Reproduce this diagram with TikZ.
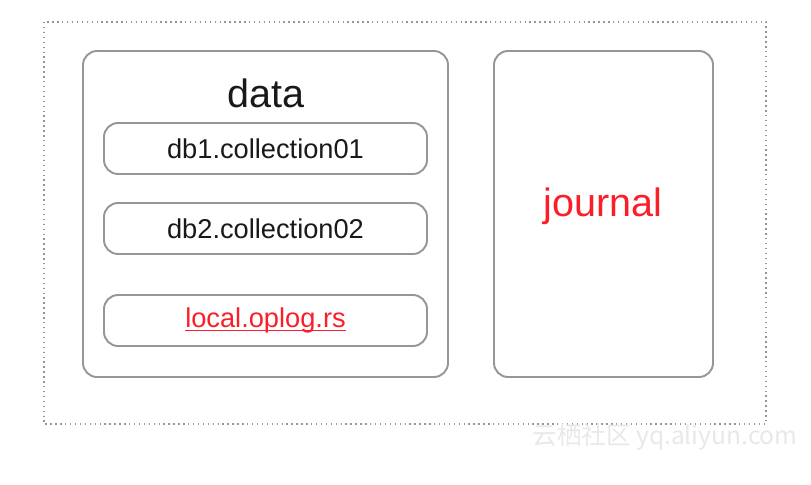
\documentclass[tikz,border=0pt]{standalone}
\usepackage{fontspec}
\setmainfont{Liberation Sans}
\newfontfamily\cjk{Noto Sans CJK SC}
\usetikzlibrary{positioning}

\definecolor{boxgray}{RGB}{150,150,152}
\definecolor{logred}{RGB}{250,30,40}
\definecolor{inkgray}{RGB}{25,25,25}

\begin{document}
\begin{tikzpicture}[
  x=0.02cm, y=-0.02cm,
  outer/.style={draw=boxgray, dotted, line width=0.8pt},
  store/.style={draw=boxgray, line width=1.1pt, rounded corners=8pt, inner sep=0pt},
  coll/.style={draw=boxgray, line width=1.1pt, rounded corners=8pt, inner sep=0pt,
    minimum width=323*0.02cm, minimum height=51*0.02cm},
  label/.style={text=inkgray, font=\fontsize{15.5}{18}\selectfont, inner sep=0pt},
  every node/.style={align=center}]

  \useasboundingbox (0,0) rectangle (811,484);

  % outer frame
  \draw[outer] (44,22) rectangle (766,424);

  % the two stores
  \node[store, minimum width=365*0.02cm, minimum height=326*0.02cm] (data) at (265.5,214) {};
  \node[store, minimum width=219*0.02cm, minimum height=326*0.02cm] (journal) at (603.5,214) {};

  \node[text=inkgray, font=\fontsize{22.5}{26}\selectfont] (datalbl) at (266,93) {data};
  \node[font=\fontsize{22.5}{26}\selectfont, text=logred] (journallbl) at (603,206) {journal};

  % collections inside data
  \node[coll] (c1) at (265.5,148.5) {};
  \node[coll] (c2) at (265.5,228.5) {};
  \node[coll] (c3) at (265.5,320.5) {};
  \node[label] at (c1) {db1.collection01};
  \node[label] at (c2) {db2.collection02};
  \node[label, text=logred] (oplog) at (c3) {local.oplog.rs};
  \draw[logred, line width=0.7pt] ([yshift=-1.6pt]oplog.base west) -- ([yshift=-1.6pt]oplog.base east);

  % watermark
  \node[text=black!9, font=\cjk\fontsize{14}{17}\selectfont] (mark) at (665,437) {云栖社区 yq.aliyun.com};

\end{tikzpicture}
\end{document}
